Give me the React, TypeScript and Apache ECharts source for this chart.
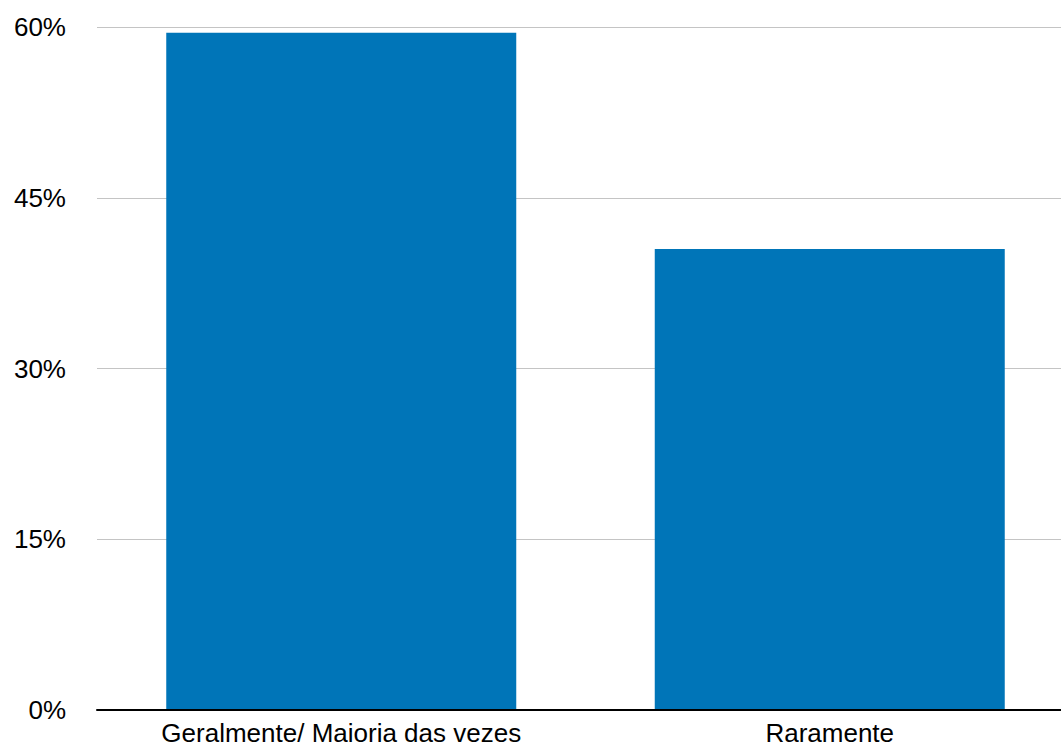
import React, { useEffect, useRef } from "react";
import * as echarts from "echarts";

// Response categories and their share of answers (%)
const categories = ["Geralmente/ Maioria das vezes", "Raramente"];
const shares = [59.5, 40.5];
// Value axis range and step (%)
const axisMax = 60;
const axisStep = 15;

export default function App() {
  const ref = useRef<HTMLDivElement>(null);

  useEffect(() => {
    if (!ref.current) return;
    const chart = echarts.init(ref.current, null, { renderer: "svg" });
    chart.setOption({
      animation: false,
      backgroundColor: "#ffffff",
      textStyle: { fontFamily: "Liberation Sans, Arial, Helvetica, sans-serif" },
      // plot area runs a little past the right edge of the visible frame
      grid: { left: 97, right: 6, top: 27, bottom: 37, containLabel: false },
      xAxis: {
        type: "category",
        data: categories,
        axisLine: { show: true, lineStyle: { color: "#000000", width: 2 } },
        axisTick: { show: false },
        axisLabel: { color: "#000000", fontSize: 26, lineHeight: 20, margin: 13 },
        z: 5,
      },
      yAxis: {
        type: "value",
        min: 0,
        max: axisMax,
        interval: axisStep,
        axisLine: { show: false },
        axisTick: { show: false },
        axisLabel: {
          color: "#000000",
          fontSize: 26,
          margin: 31,
          formatter: "{value}%",
        },
        splitLine: { show: true, lineStyle: { color: "#c4c4c4", width: 1 } },
      },
      series: [
        {
          type: "bar",
          data: shares,
          barWidth: 350,
          itemStyle: { color: "#0075b8" },
        },
      ],
    });
    return () => chart.dispose();
  }, []);

  return (
    <div
      style={{
        position: "fixed",
        left: 0,
        top: 0,
        width: 1061,
        height: 747,
        overflow: "hidden",
        background: "#ffffff",
      }}
    >
      <div ref={ref} style={{ width: 1080, height: 747 }} />
    </div>
  );
}
